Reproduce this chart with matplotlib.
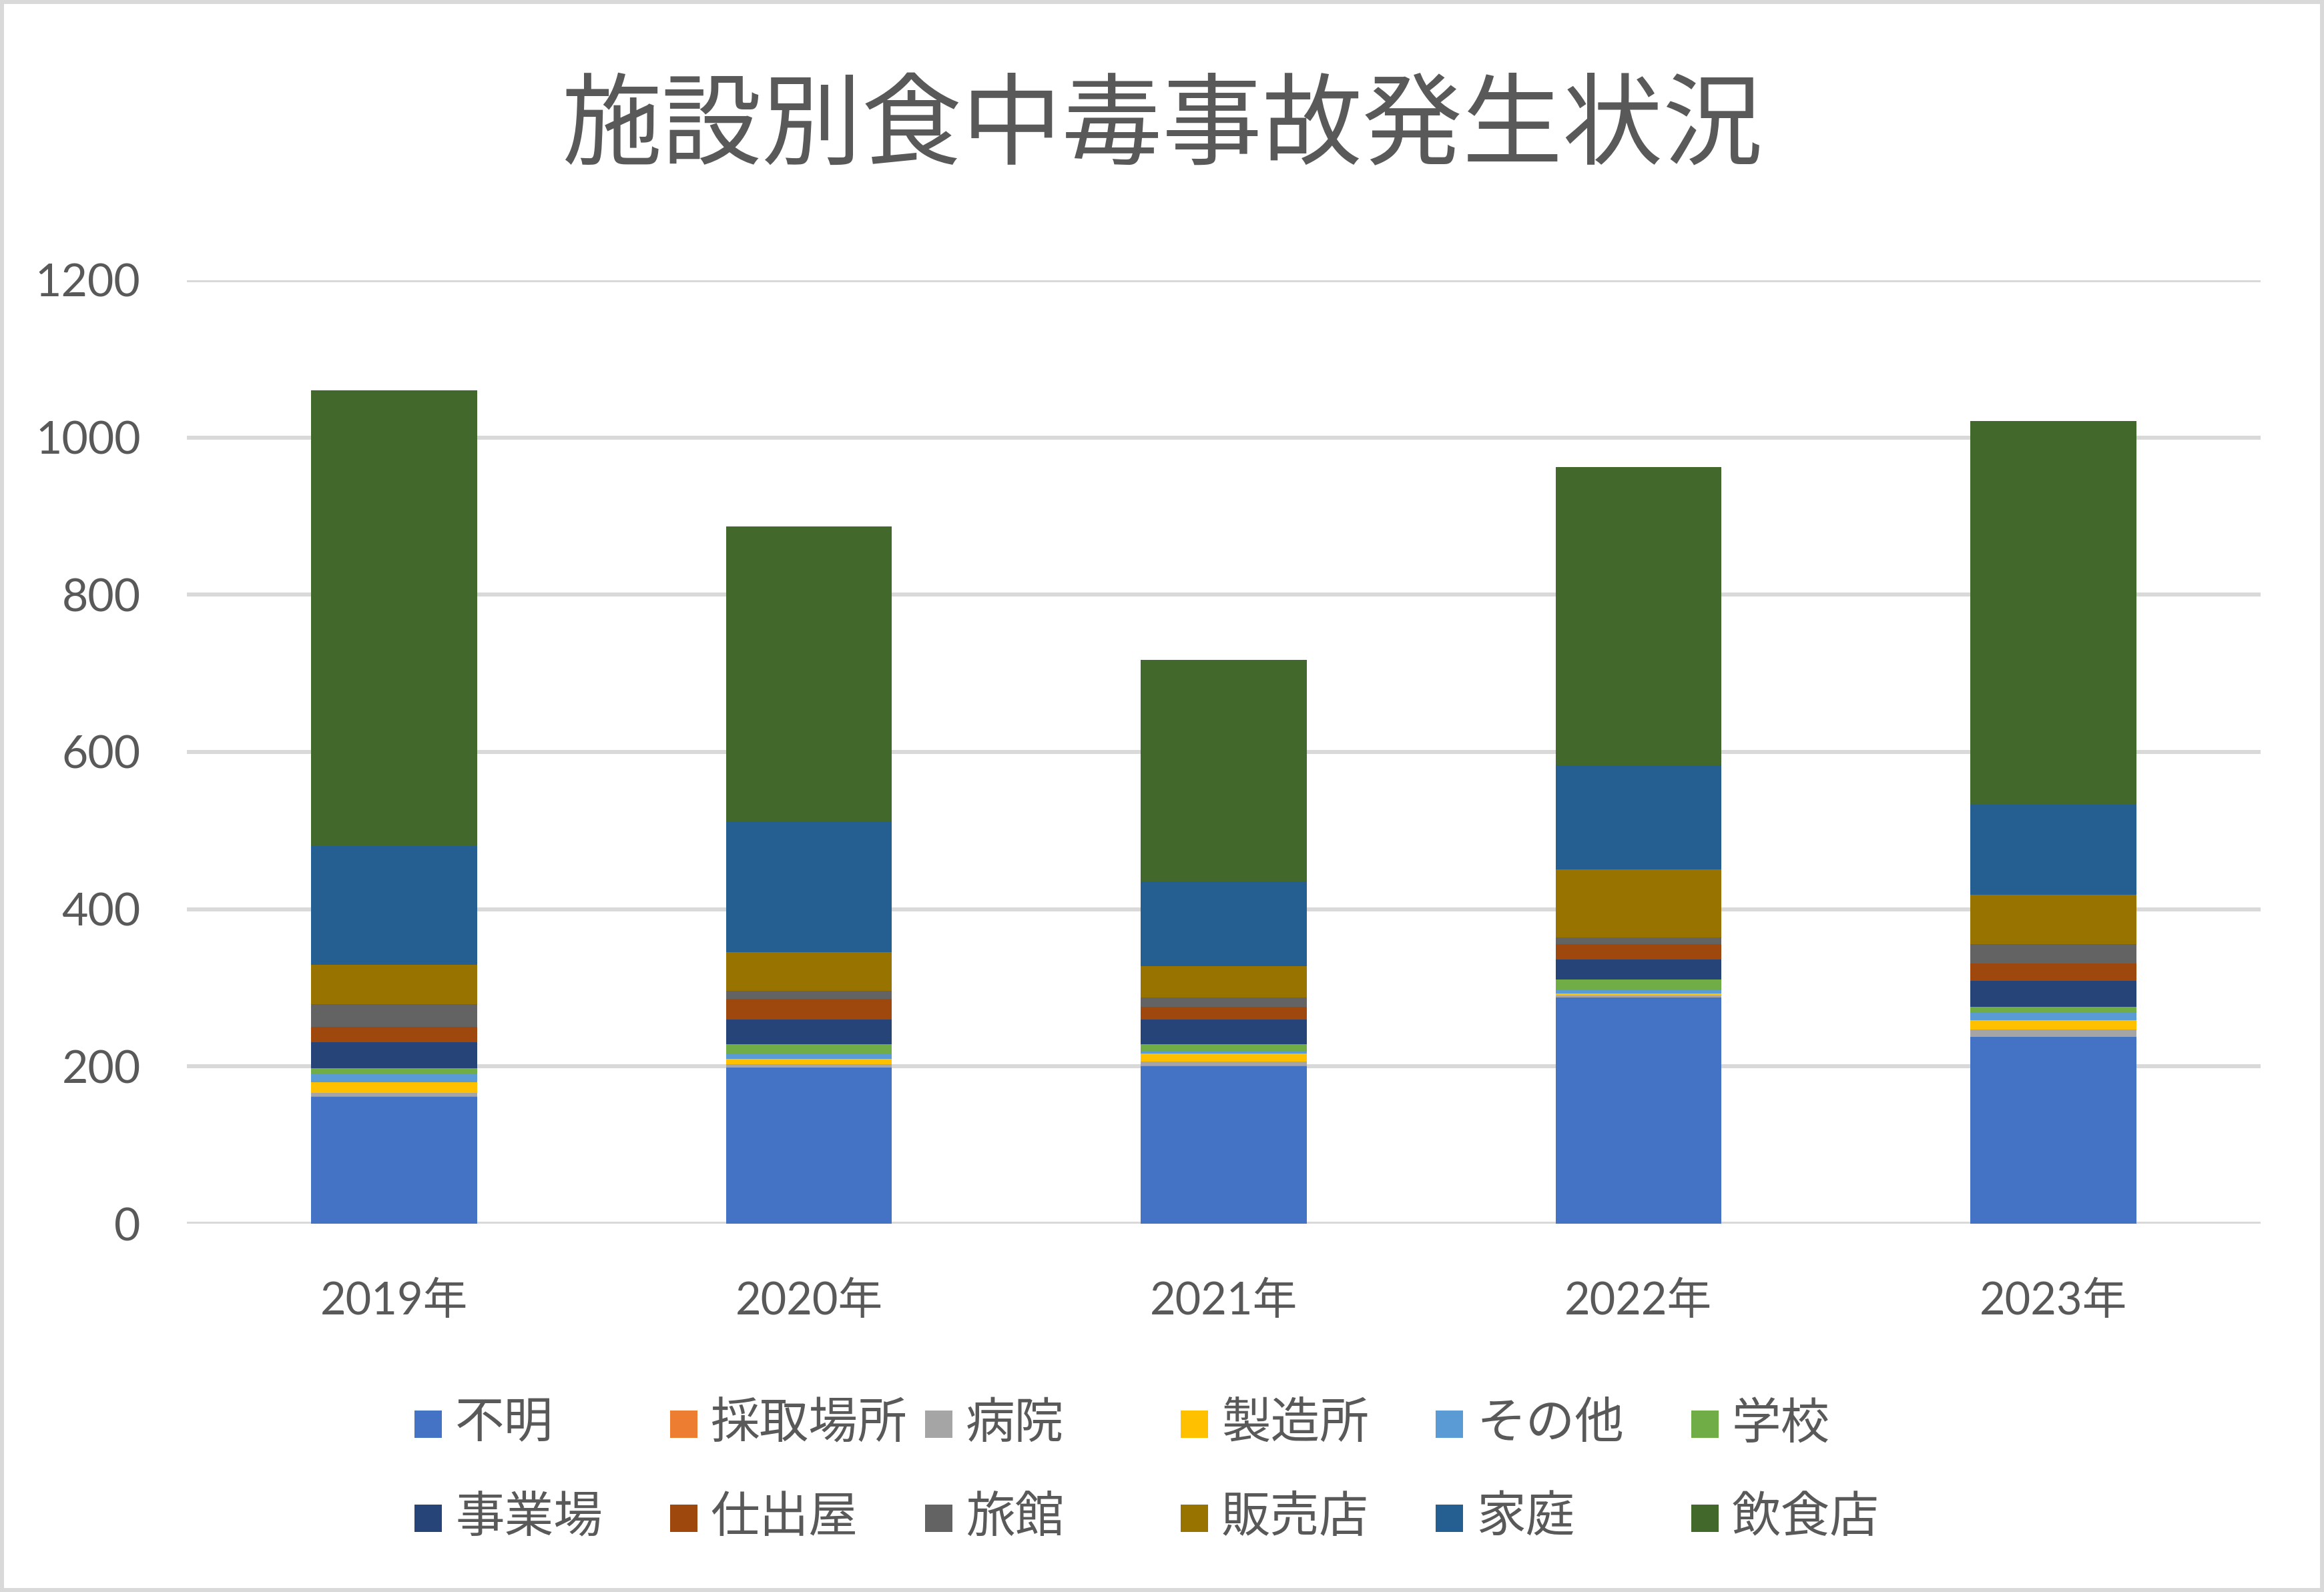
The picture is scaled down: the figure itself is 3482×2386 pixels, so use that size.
import numpy as np
import matplotlib
matplotlib.use("Agg")
import matplotlib.pyplot as plt
from matplotlib.patches import Rectangle

plt.rcParams['font.family'] = ['Lato', 'Noto Sans CJK JP', 'DejaVu Sans']

years = ['2019年', '2020年', '2021年', '2022年', '2023年']

# 施設別の件数（下から積み上げ順）
fumei = [161, 199, 200, 288, 238]
saishu = [1, 0, 1, 0, 0]
byoin = [4, 4, 5, 2, 9]
seizo = [14, 7, 10, 3, 12]
sonota = [10, 6, 3, 5, 10]
gakko = [8, 12, 9, 13, 7]
jigyo = [33, 32, 32, 25, 33]
shidashi = [19, 26, 16, 20, 22]
ryokan = [29, 10, 12, 8, 25]
hanbai = [50, 49, 40, 87, 62]
katei = [151, 167, 107, 132, 115]
inshoku = [580, 375, 282, 379, 488]

labels = ['不明', '採取場所', '病院', '製造所', 'その他', '学校',
          '事業場', '仕出屋', '旅館', '販売店', '家庭', '飲食店']
series = [fumei, saishu, byoin, seizo, sonota, gakko,
          jigyo, shidashi, ryokan, hanbai, katei, inshoku]
colors = ['#4472C4', '#ED7D31', '#A5A5A5', '#FFC000', '#5B9BD5', '#70AD47',
          '#264478', '#9E480E', '#636363', '#997300', '#255E91', '#43682B']

txt = '#595959'
grid = '#D9D9D9'

W, H = 3482, 2386
fig = plt.figure(figsize=(W / 100, H / 100), dpi=100)
ax = fig.add_axes([280 / W, 1 - 1834 / H, (3387 - 280) / W, (1834 - 420) / H])

x = np.arange(len(years))
bottom = np.zeros(len(years))
for vals, c in zip(series, colors):
    ax.bar(x, vals, 0.4, bottom=bottom, color=c, linewidth=0, zorder=3)
    bottom += np.array(vals)

ax.set_xlim(-0.5, len(years) - 0.5)
ax.set_ylim(0, 1200)
ax.set_yticks(range(0, 1201, 200))
ax.set_xticks(x)
ax.set_xticklabels(years)
ax.yaxis.grid(True, color=grid, linewidth=4.3, zorder=0)
for s in ax.spines.values():
    s.set_visible(False)
ax.axhline(0, color=grid, linewidth=4.3, zorder=2)
ax.tick_params(axis='y', length=0, pad=50, labelsize=49, labelcolor=txt)
ax.tick_params(axis='x', length=0, pad=62, labelsize=48, labelcolor=txt)

fig.text(0.5, 1 - 192 / H, '施設別食中毒事故発生状況', ha='center', va='center',
         fontsize=108, color=txt)

# 凡例（6列×2行、等間隔）
col_x = 621
row_y = [2134, 2275]
step = 382.6
sq = 41
for i, (lab, c) in enumerate(zip(labels, colors)):
    r, k = divmod(i, 6)
    x0 = col_x + k * step
    yc = row_y[r]
    fig.add_artist(Rectangle((x0 / W, 1 - (yc + sq / 2) / H), sq / W, sq / H,
                             transform=fig.transFigure, facecolor=c, edgecolor='none'))
    fig.text((x0 + sq + 20) / W, 1 - yc / H, lab, ha='left', va='center',
             fontsize=53, color=txt)

fig.add_artist(Rectangle((0, 0), 1, 1, transform=fig.transFigure, fill=False,
                         edgecolor=grid, linewidth=8.6))

fig.savefig('out.png', dpi=100, facecolor='white')
plt.close(fig)
